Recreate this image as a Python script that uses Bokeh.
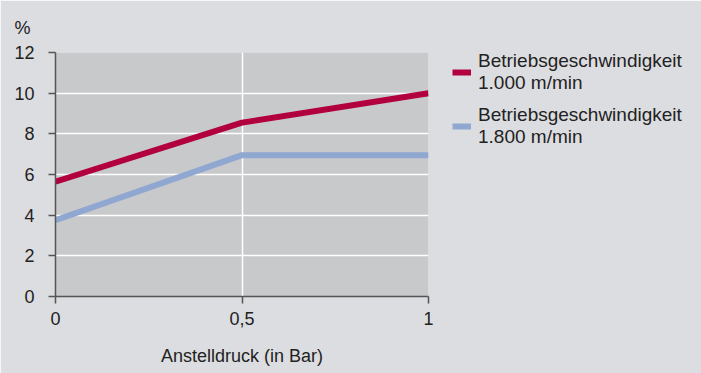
from bokeh.plotting import figure
from bokeh.models import Range1d, FixedTicker, Legend, LegendItem
from bokeh.embed import file_html
from bokeh.resources import INLINE

x_vals = [0, 0.5, 1]
speed_1000 = [5.65, 8.55, 10.0]
speed_1800 = [3.75, 6.95, 6.95]
series_labels = ["Betriebsgeschwindigkeit\n1.000 m/min", "Betriebsgeschwindigkeit\n1.800 m/min"]
x_tick_labels = {0: "0", 0.5: "0,5", 1: "1"}
y_ticks = [0, 2, 4, 6, 8, 10, 12]
unit_label = "%"

FONT = "Liberation Sans"
TXT = "#222222"
BG = "#dcdde0"
PLOT_BG = "#c8c9cb"
RED = "#b2003f"
BLUE = "#8fa7d1"

p = figure(frame_width=373, frame_height=244, output_backend="svg", toolbar_location=None,
           x_range=Range1d(0, 1), y_range=Range1d(0, 12),
           min_border_left=55, min_border_right=0, min_border_top=52, min_border_bottom=77,
           title=unit_label)
p.background_fill_color = PLOT_BG
p.border_fill_color = BG
p.outline_line_color = None
p.title.text_font = FONT
p.title.text_font_size = "18px"
p.title.text_font_style = "normal"
p.title.text_color = TXT
p.title.align = "left"
p.title.offset = -41
p.title.standoff = 30

r1 = p.line(x_vals, speed_1000, line_color=RED, line_width=6)
r2 = p.line(x_vals, speed_1800, line_color=BLUE, line_width=6)

p.xaxis.ticker = FixedTicker(ticks=[0, 0.5, 1])
p.xaxis.major_label_overrides = {k: v for k, v in x_tick_labels.items()}
p.yaxis.ticker = FixedTicker(ticks=y_ticks)
for ax in (p.xaxis[0], p.yaxis[0]):
    ax.axis_line_color = "#555555"
    ax.axis_line_width = 1.5
    ax.major_tick_line_color = "#555555"
    ax.major_tick_line_width = 1.5
    ax.major_tick_in = 0
    ax.major_tick_out = 7
    ax.minor_tick_line_color = None
    ax.major_label_text_font = FONT
    ax.major_label_text_font_size = "18px"
    ax.major_label_text_color = TXT
p.yaxis.major_label_standoff = 14
p.xaxis.major_label_standoff = 8
p.xaxis.axis_label = "Anstelldruck (in Bar)"
p.xaxis.axis_label_text_font = FONT
p.xaxis.axis_label_text_font_size = "18px"
p.xaxis.axis_label_text_font_style = "normal"
p.xaxis.axis_label_text_color = TXT
p.xaxis.axis_label_standoff = 18

p.xgrid.ticker = FixedTicker(ticks=[0.5])
p.ygrid.ticker = FixedTicker(ticks=[2, 4, 6, 8, 10])
p.xgrid.grid_line_color = "white"
p.ygrid.grid_line_color = "white"
p.xgrid.grid_line_width = 1.5
p.ygrid.grid_line_width = 1.5

legend = Legend(items=[LegendItem(label=series_labels[0], renderers=[r1]),
                       LegendItem(label=series_labels[1], renderers=[r2])],
                location=(24, 148), background_fill_alpha=0, border_line_color=None,
                label_text_font=FONT, label_text_font_size="19px", label_text_color=TXT,
                label_text_line_height=1.1,
                glyph_width=19, glyph_height=20, label_standoff=7, spacing=10,
                padding=0, margin=0)
p.add_layout(legend, "right")

html = file_html(p, INLINE)
html = html.replace("<body>", '<body style="margin:0;background:%s">' % BG, 1)
open("out.html", "w").write(html)
